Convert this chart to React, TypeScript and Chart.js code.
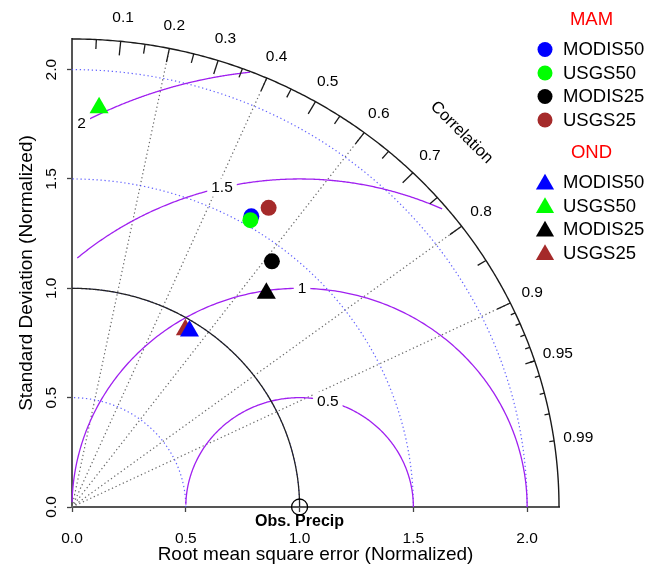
import React, { useEffect, useRef } from 'react';
import { Chart, registerables } from 'chart.js';

Chart.register(...registerables);

// ---- data -------------------------------------------------------------
const models = ['MODIS50', 'USGS50', 'MODIS25', 'USGS25'];
const modelColors = ['#0000FF', '#00FF00', '#000000', '#A52A2A'];
const seasons = ['MAM', 'OND'];
const seasonStyles = ['circle', 'triangle'];

// normalized standard deviation and correlation with observed precipitation
const mamSd = [1.545, 1.528, 1.426, 1.618];
const mamCorr = [0.51, 0.513, 0.616, 0.534];
const ondSd = [0.956, 1.83, 1.298, 0.951];
const ondCorr = [0.54, 0.065, 0.658, 0.524];

const axisTicks = [0, 0.5, 1.0, 1.5, 2.0];
const corrLabels = [0.1, 0.2, 0.3, 0.4, 0.5, 0.6, 0.7, 0.8, 0.9, 0.95, 0.99];
const corrMajorTicks = [0.1, 0.2, 0.3, 0.4, 0.5, 0.6, 0.7, 0.8, 0.9];
const corrMediumTicks = [0.05, 0.15, 0.25, 0.35, 0.45, 0.55, 0.65, 0.75, 0.85, 0.95];
const corrSmallTicks = [0.91, 0.92, 0.93, 0.94, 0.95, 0.96, 0.97, 0.98, 0.99];
const corrGridLines = [0.2, 0.4, 0.6, 0.8, 0.9];
const sdArcs = [0.5, 1.0, 1.5, 2.0];
const rmsLevels = [0.5, 1, 1.5, 2];
const rmsLabelAngles = [1.32, 1.56, 1.8, 2.07];
const refSd = 1;
const maxSd = 2.14;
const refLabel = 'Obs. Precip';

const FONT = "'Liberation Sans', Arial, Helvetica, sans-serif";

const toXY = (sd: number, r: number) => ({ x: sd * r, y: sd * Math.sqrt(1 - r * r) });

const taylorFrame = {
  id: 'taylorFrame',
  beforeDatasetsDraw(chart: any) {
    const { ctx } = chart;
    const xs = chart.scales.x;
    const ys = chart.scales.y;
    const X = (v: number) => xs.getPixelForValue(v);
    const Y = (v: number) => ys.getPixelForValue(v);

    const arc = (r: number, t0: number, t1: number, cx = 0) => {
      ctx.beginPath();
      const n = 300;
      for (let i = 0; i <= n; i++) {
        const t = t0 + ((t1 - t0) * i) / n;
        const px = X(cx + r * Math.cos(t));
        const py = Y(r * Math.sin(t));
        if (i === 0) ctx.moveTo(px, py);
        else ctx.lineTo(px, py);
      }
    };

    ctx.save();

    // dotted correlation rays
    ctx.setLineDash([1.3, 2.7]);
    ctx.lineWidth = 1.2;
    ctx.strokeStyle = '#6a6a6a';
    corrGridLines.forEach((c) => {
      const t = Math.acos(c);
      ctx.beginPath();
      ctx.moveTo(X(0), Y(0));
      ctx.lineTo(X(maxSd * Math.cos(t)), Y(maxSd * Math.sin(t)));
      ctx.stroke();
    });

    // dotted standard deviation arcs
    ctx.strokeStyle = 'rgba(70,70,255,0.85)';
    sdArcs.forEach((r) => {
      arc(r, 0, Math.PI / 2);
      ctx.stroke();
    });
    ctx.setLineDash([]);

    // centred RMS difference contours around the reference point
    ctx.font = `15.5px ${FONT}`;
    ctx.textAlign = 'center';
    ctx.textBaseline = 'middle';
    rmsLevels.forEach((g, i) => {
      const step = 0.03;
      const ts: number[] = [];
      for (let k = 0; k * step <= Math.PI; k++) ts.push(k * step);
      const cx = (t: number) => refSd + g * Math.cos(t);
      const cy = (t: number) => g * Math.sin(t);
      let endK = ts.findIndex((t) => cx(t) < 0);
      endK = endK === -1 ? ts.length - 1 : endK - 1;
      let startK = 0;
      ts.forEach((t, k) => {
        if (cx(t) * cx(t) + cy(t) * cy(t) > maxSd * maxSd) startK = k + 1;
      });
      ctx.strokeStyle = '#A020F0';
      ctx.lineWidth = 1.3;
      arc(g, ts[startK], ts[endK], refSd);
      ctx.stroke();

      const t = rmsLabelAngles[i];
      const lx = X(cx(t));
      const ly = Y(cy(t));
      const text = String(g);
      const w = ctx.measureText(text).width;
      ctx.fillStyle = '#ffffff';
      ctx.fillRect(lx - w / 2 - 4, ly - 9, w + 8, 18);
      ctx.fillStyle = '#000000';
      ctx.fillText(text, lx, ly + 0.5);
    });

    // outer correlation arc
    ctx.strokeStyle = '#1a1a1a';
    ctx.lineWidth = 1.4;
    arc(maxSd, 0, Math.PI / 2);
    ctx.stroke();

    const tick = (c: number, frac: number) => {
      const t = Math.acos(c);
      ctx.beginPath();
      ctx.moveTo(X(maxSd * c), Y(maxSd * Math.sin(t)));
      ctx.lineTo(X(maxSd * frac * c), Y(maxSd * frac * Math.sin(t)));
      ctx.stroke();
    };
    ctx.lineWidth = 1.3;
    corrMajorTicks.forEach((c) => tick(c, 0.97));
    corrMediumTicks.forEach((c) => tick(c, 0.98));
    corrSmallTicks.forEach((c) => tick(c, 0.99));

    ctx.fillStyle = '#000';
    ctx.font = `15.5px ${FONT}`;
    corrLabels.forEach((c) => {
      const t = Math.acos(c);
      ctx.fillText(String(c), X(1.05 * maxSd * c), Y(1.05 * maxSd * Math.sin(t)));
    });

    ctx.save();
    ctx.translate(X(0.8 * maxSd), Y(0.8 * maxSd));
    ctx.rotate(Math.PI / 4);
    ctx.font = `16.5px ${FONT}`;
    ctx.fillText('Correlation', 0, 0);
    ctx.restore();

    // reference standard deviation arc
    ctx.strokeStyle = '#222';
    ctx.lineWidth = 1.3;
    arc(refSd, 0, Math.PI / 2);
    ctx.stroke();

    // observed reference point
    ctx.beginPath();
    ctx.arc(X(refSd), Y(0), 8, 0, Math.PI * 2);
    ctx.strokeStyle = '#000';
    ctx.lineWidth = 1.3;
    ctx.stroke();
    ctx.font = `bold 16px ${FONT}`;
    ctx.fillText(refLabel, X(refSd), Y(0) + 15);

    ctx.restore();
  },
  afterDraw(chart: any) {
    const { ctx } = chart;
    const ys = chart.scales.y;
    ctx.save();

    // rotated y tick labels
    ctx.fillStyle = '#000';
    ctx.font = `15.5px ${FONT}`;
    ctx.textAlign = 'center';
    ctx.textBaseline = 'middle';
    ys.ticks.forEach((tk: any) => {
      ctx.save();
      ctx.translate(51.5, ys.getPixelForValue(tk.value));
      ctx.rotate(-Math.PI / 2);
      ctx.fillText(Number(tk.value).toFixed(1), 0, 0);
      ctx.restore();
    });

    // grouped legend
    const groupTops = [20, 153.3];
    seasons.forEach((s, si) => {
      const top = groupTops[si];
      ctx.font = `18.5px ${FONT}`;
      ctx.fillStyle = '#FF0000';
      ctx.textAlign = 'center';
      ctx.fillText(s, 591.5, top);
      models.forEach((m, i) => {
        const cy = top + 29.5 + i * 23.5;
        const cx = 545;
        ctx.fillStyle = modelColors[i];
        ctx.beginPath();
        if (seasonStyles[si] === 'circle') {
          ctx.arc(cx, cy, 7.5, 0, Math.PI * 2);
        } else {
          const r = 10.5;
          let rad = 0;
          ctx.moveTo(cx + Math.sin(rad) * r, cy + 1.5 - Math.cos(rad) * r);
          rad += (2 * Math.PI) / 3;
          ctx.lineTo(cx + Math.sin(rad) * r, cy + 1.5 - Math.cos(rad) * r);
          rad += (2 * Math.PI) / 3;
          ctx.lineTo(cx + Math.sin(rad) * r, cy + 1.5 - Math.cos(rad) * r);
          ctx.closePath();
        }
        ctx.fill();
        ctx.fillStyle = '#000';
        ctx.textAlign = 'left';
        ctx.fillText(m, 563, cy + 0.5);
      });
    });

    ctx.restore();
  },
};

export default function App() {
  const canvasRef = useRef<HTMLCanvasElement | null>(null);

  useEffect(() => {
    if (!canvasRef.current) return;

    const seasonData = [
      { sd: mamSd, corr: mamCorr },
      { sd: ondSd, corr: ondCorr },
    ];
    const datasets: any[] = [];
    seasons.forEach((s, si) => {
      models.forEach((m, i) => {
        const { sd, corr } = seasonData[si];
        datasets.push({
          label: `${s} ${m}`,
          data: [toXY(sd[i], corr[i])],
          pointStyle: seasonStyles[si],
          pointRadius: si === 0 ? 8 : 11,
          backgroundColor: modelColors[i],
          borderColor: modelColors[i],
          borderWidth: 0,
          // MAM: later models on top; OND: earlier models on top
          order: si === 0 ? 10 - i : 20 + i,
        });
      });
    });

    const chart = new Chart(canvasRef.current, {
      type: 'scatter',
      data: { datasets },
      options: {
        responsive: false,
        animation: false,
        layout: { padding: { top: 39, right: 103, bottom: 0, left: 0 } },
        plugins: { legend: { display: false }, tooltip: { enabled: false } },
        scales: {
          x: {
            type: 'linear',
            min: 0,
            max: maxSd,
            afterBuildTicks: (s: any) => {
              s.ticks = axisTicks.map((v) => ({ value: v }));
            },
            afterFit: (s: any) => {
              s.height = 59;
            },
            ticks: {
              callback: (v: any) => Number(v).toFixed(1),
              font: { family: FONT, size: 15.5 },
              color: '#000',
              padding: 17,
              maxRotation: 0,
              autoSkip: false,
            },
            grid: {
              display: true,
              drawOnChartArea: false,
              drawTicks: true,
              tickLength: 5,
              color: '#444',
              tickWidth: 1.3,
            },
            border: { display: true, color: '#555', width: 2 },
            title: {
              display: true,
              text: 'Root mean square error (Normalized)',
              font: { family: FONT, size: 19 },
              color: '#000',
              padding: 0,
            },
          },
          y: {
            type: 'linear',
            min: 0,
            max: maxSd,
            afterBuildTicks: (s: any) => {
              s.ticks = axisTicks.map((v) => ({ value: v }));
            },
            afterFit: (s: any) => {
              s.width = 72;
            },
            ticks: { display: false },
            grid: {
              display: true,
              drawOnChartArea: false,
              drawTicks: true,
              tickLength: 5,
              color: '#444',
              tickWidth: 1.3,
            },
            border: { display: true, color: '#555', width: 2 },
            title: {
              display: true,
              text: 'Standard Deviation (Normalized)',
              font: { family: FONT, size: 19 },
              color: '#000',
              padding: { top: 15.5, bottom: 0 },
            },
          },
        },
      },
      plugins: [taylorFrame],
    } as any);

    return () => chart.destroy();
  }, []);

  return (
    <div style={{ position: 'fixed', left: 0, top: 0, width: 662, height: 566, background: '#fff' }}>
      <canvas ref={canvasRef} width={662} height={566} style={{ display: 'block' }} />
    </div>
  );
}
